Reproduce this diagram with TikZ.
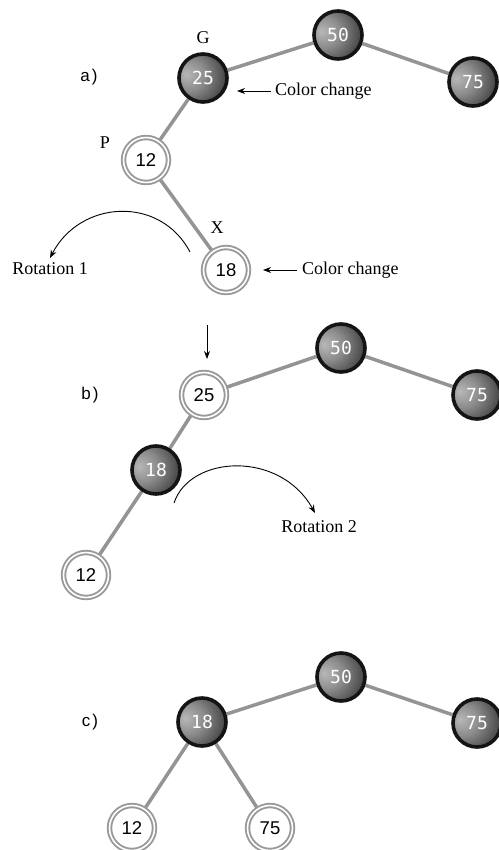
\documentclass[tikz,border=0pt]{standalone}
\usepackage{fontspec}
\setmainfont{Liberation Serif}
\newfontfamily\monof{DejaVu Sans Mono}
\newfontfamily\sansf{Liberation Sans}
\usetikzlibrary{backgrounds,arrows.meta}
\pgfdeclareradialshading{darkball}{\pgfpoint{-18bp}{4bp}}{color(0bp)=(black!28); color(16bp)=(black!45); color(34bp)=(black!72); color(52bp)=(black!86); color(80bp)=(black!90)}
\tikzset{
  blk/.style={circle, minimum size=48pt, inner sep=0pt, draw=black!92, line width=3.6pt, shade, shading=darkball, text=white, font=\monof\fontsize{18}{18}\selectfont},
  wnode/.style={circle, minimum size=45pt, inner sep=0pt, draw=black!40, double=white, double distance=1.6pt, line width=1.9pt, fill=white, font=\sansf\fontsize{18.5}{18.5}\selectfont},
  edge/.style={draw=black!42, line width=3.5pt},
  lbl/.style={inner sep=0pt, font=\fontsize{18}{18}\selectfont},
  plbl/.style={inner sep=0pt, font=\sansf\fontsize{17}{17}\selectfont},
  arr/.style={-{Stealth[length=8pt,width=6pt]}, line width=0.9pt, black},
}
\begin{document}
\begin{tikzpicture}[x=1pt,y=-1pt]
\useasboundingbox (0,0) rectangle (498,850);
% panel a
\node[blk] (a50) at (338,35) {50};
\node[blk] (a25) at (203,78) {25};
\node[blk] (a75) at (473,82) {75};
\node[wnode] (a12) at (146,160) {12};
\node[wnode] (a18) at (226,270) {18};
\node[plbl] (la) at (89,77) {a\kern2pt)};
\node[lbl] (lG) at (203,38) {G};
\node[lbl] (lP) at (105,143) {P};
\node[lbl] (lX) at (217,228) {X};
\node[lbl, anchor=west] (cc1) at (275,91) {Color change};
\coordinate (cc1e) at (237,91);
\draw[arr] (cc1.west) ++(-4,0) coordinate (cc1s) (cc1s) -- (cc1e);
\node[lbl, anchor=west] (cc2) at (302,270) {Color change};
\coordinate (cc2e) at (263,270);
\draw[arr] (cc2.west) ++(-5,0) coordinate (cc2s) (cc2s) -- (cc2e);
\node[lbl] (rot1) at (50,269) {Rotation 1};
\coordinate (r1s) at (190,252);
\coordinate (r1e) at (50,258);
\draw[arr] (r1s) .. controls (160,195) and (80,200) .. (r1e);
% panel b
\coordinate (dtop) at (207,325);
\coordinate (dbot) at (207,359);
\draw[arr] (dtop) -- (dbot);
\node[wnode] (b25) at (204,395) {25};
\node[blk] (b50) at (341,348) {50};
\node[blk] (b75) at (477,395) {75};
\node[blk] (b18) at (156,470) {18};
\node[wnode] (b12) at (86,575) {12};
\node[plbl] (lb) at (90,395) {b\kern2pt)};
\node[lbl] (rot2) at (319,527) {Rotation 2};
\coordinate (r2s) at (174,503);
\coordinate (r2e) at (315,513);
\draw[arr] (r2s) .. controls (190,455) and (280,450) .. (r2e);
% panel c
\node[blk] (c50) at (341,677) {50};
\node[blk] (c18) at (202,722) {18};
\node[blk] (c75) at (477,723) {75};
\node[wnode] (c12) at (132,828) {12};
\node[wnode] (c75b) at (270,828) {75};
\node[plbl] (lc) at (90,722) {c\kern2pt)};
\begin{scope}[on background layer]
\draw[edge] (a50) -- (a25);
\draw[edge] (a50) -- (a75);
\draw[edge] (a25) -- (a12);
\draw[edge] (a12) -- (a18);
\draw[edge] (b50) -- (b25);
\draw[edge] (b50) -- (b75);
\draw[edge] (b25) -- (b18);
\draw[edge] (b18) -- (b12);
\draw[edge] (c50) -- (c18);
\draw[edge] (c50) -- (c75);
\draw[edge] (c18) -- (c12);
\draw[edge] (c18) -- (c75b);
\end{scope}
\end{tikzpicture}
\end{document}
